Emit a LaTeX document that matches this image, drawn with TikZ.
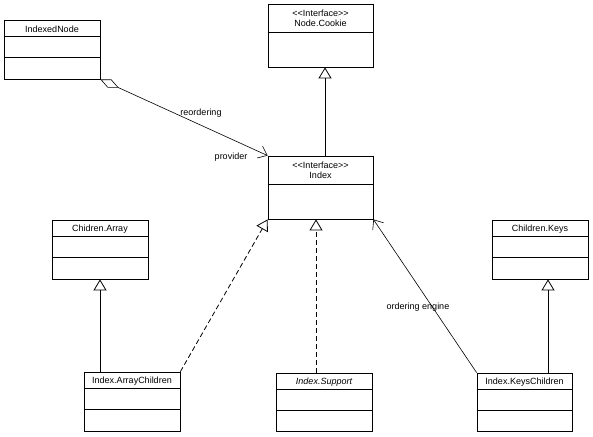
\documentclass[tikz,border=0pt]{standalone}
\usepackage{fontspec}
\setmainfont{Liberation Sans}
\usetikzlibrary{positioning,arrows.meta}

\tikzset{
  cls/.style={draw,rectangle,line width=0.8pt,minimum width=96pt,minimum height=59pt,inner sep=0pt},
  ttl/.style={font=\fontsize{9}{10}\selectfont,inner sep=0pt,align=center},
  inherit/.style={line width=0.8pt,-{Triangle[open,length=11pt,width=13pt]}},
  realize/.style={inherit,dash pattern=on 5pt off 3pt},
  assoc/.style={line width=0.6pt,-{Straight Barb[length=8pt,width=13pt]}},
  lbl/.style={font=\fontsize{9}{10}\selectfont,inner sep=1pt}
}
\newcommand{\stereo}[1]{{<}{<}#1{>}{>}}

\begin{document}
\begin{tikzpicture}[x=1pt,y=-1pt]
\useasboundingbox (0,0) rectangle (593,436);

% classes
\node[cls] (inode) at (52,49.5) {};
\node[cls,minimum width=105pt,minimum height=63pt] (cookie) at (320.5,35.5) {};
\node[cls,minimum width=105pt,minimum height=63pt] (index) at (320.5,187.5) {};
\node[cls] (carray) at (100,249.5) {};
\node[cls] (ckeys) at (540,249.5) {};
\node[cls] (achildren) at (132,401.5) {};
\node[cls,minimum height=58pt] (support) at (324,402) {};
\node[cls,minimum width=95pt,minimum height=58pt] (kchildren) at (524.5,402) {};

% compartments
\foreach \c in {inode,carray,ckeys,achildren,support,kchildren}{
  \draw[line width=0.8pt] ([yshift=-17pt]\c.north west) -- ([yshift=-17pt]\c.north east);
  \draw[line width=0.8pt] ([yshift=-38pt]\c.north west) -- ([yshift=-38pt]\c.north east);
}
\foreach \c in {cookie,index}
  \draw[line width=0.8pt] ([yshift=-29pt]\c.north west) -- ([yshift=-29pt]\c.north east);

% names
\node[ttl] (t1) at ([yshift=-9.5pt]inode.north) {IndexedNode};
\node[ttl] (t2) at ([yshift=-15pt]cookie.north) {\stereo{Interface}\\Node.Cookie};
\node[ttl] (t3) at ([yshift=-15pt]index.north) {\stereo{Interface}\\Index};
\node[ttl] (t4) at ([yshift=-9.5pt]carray.north) {Chidren.Array};
\node[ttl] (t5) at ([yshift=-9.5pt]ckeys.north) {Children.Keys};
\node[ttl] (t6) at ([yshift=-9.5pt]achildren.north) {Index.ArrayChildren};
\node[ttl,font=\fontsize{9}{10}\selectfont\itshape] (t7) at ([yshift=-9.5pt]support.north) {Index.Support};
\node[ttl] (t8) at ([yshift=-9.5pt]kchildren.north) {Index.KeysChildren};

% relations
\draw[inherit] ([xshift=4.5pt]index.north) -- ([xshift=4.5pt]cookie.south);
\draw[inherit] (achildren.north -| carray.south) -- (carray.south);
\draw[inherit] ([xshift=8pt]kchildren.north -| ckeys.south) -- ([xshift=8pt]ckeys.south);
\draw[realize] (achildren.north east) -- (index.south west);
\draw[realize] ([xshift=-4.5pt]index.south |- support.north) -- ([xshift=-4.5pt]index.south);
\draw[assoc] (kchildren.north west) -- (index.south east);
\draw[assoc,{Diamond[open,length=20pt,width=9pt]}-{Straight Barb[length=8pt,width=13pt]}] (inode.south east) -- (index.north west);

% role names
\node[lbl] (reord) at (201,113) {reordering};
\node[lbl] (prov) at (231,157) {provider};
\node[lbl] (engine) at (418,307) {ordering engine};
\end{tikzpicture}
\end{document}
